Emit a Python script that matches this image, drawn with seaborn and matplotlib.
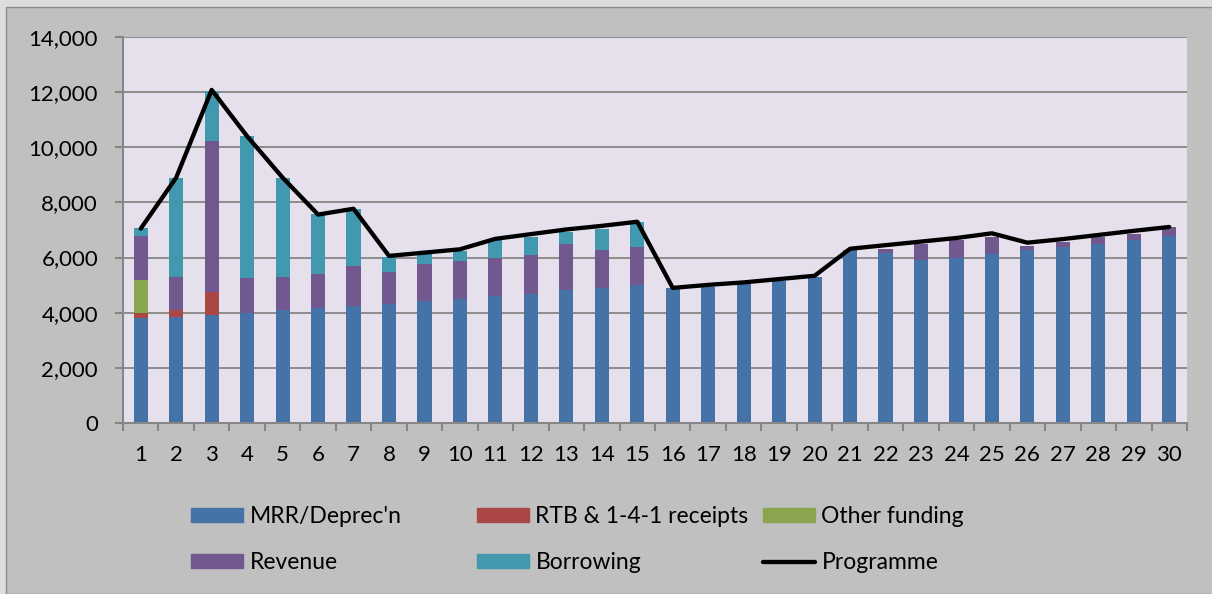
import matplotlib
matplotlib.use("Agg")
import matplotlib.pyplot as plt
import matplotlib.patches as mpatches
from matplotlib.lines import Line2D
from matplotlib.ticker import FuncFormatter
import numpy as np
import pandas as pd
import seaborn as sns

# Data
years = [str(i) for i in range(1, 31)]
mrr = [3800, 3830, 3930, 4000, 4085, 4160, 4240, 4330, 4410, 4500,
       4590, 4680, 4810, 4910, 5020, 4890, 4940, 5030, 5150, 5300,
       6280, 6180, 5900, 5990, 6120, 6260, 6380, 6510, 6630, 6780]
rtb = [190, 280, 825] + [0] * 27
other = [1200] + [0] * 29
revenue = [1590, 1200, 5490, 1260, 1210, 1250, 1440, 1130, 1370, 1390,
           1390, 1410, 1700, 1380, 1360, 0, 0, 0, 0, 0,
           0, 120, 600, 640, 630, 170, 170, 220, 240, 340]
borrowing = [290, 3560, 1780, 5140, 3590, 2160, 2085, 570, 340, 340,
             640, 640, 400, 760, 900] + [0] * 15
programme = [7050, 8900, 12080, 10400, 8900, 7560, 7770, 6060, 6180, 6300,
             6680, 6850, 7020, 7150, 7300, 4900, 5010, 5100, 5220, 5340,
             6320, 6450, 6580, 6710, 6880, 6540, 6670, 6820, 6970, 7110]

names = ["MRR/Deprec'n", "RTB & 1-4-1 receipts", "Other funding", "Revenue", "Borrowing"]
colors = ["#4572A7", "#AA4643", "#89A54E", "#71588F", "#4198AF"]

df = pd.DataFrame({"year": years, names[0]: mrr, names[1]: rtb, names[2]: other,
                   names[3]: revenue, names[4]: borrowing, "Programme": programme})

sns.set_theme(style="ticks")
plt.rcParams["font.family"] = ["Lato", "DejaVu Sans"]

fig = plt.figure(figsize=(12.12, 5.94), dpi=100)
fig.patch.set_facecolor("#DDDDDD")
fig.patches.append(mpatches.Rectangle((6 / 1212, 0), 1, 1 - 7 / 594, transform=fig.transFigure,
                                      facecolor="#C0C0C0", edgecolor="#8C8C8C", lw=1, zorder=-5))
ax = fig.add_axes([123 / 1212, 1 - 423 / 594, (1187 - 123) / 1212, (423 - 37) / 594])
ax.set_facecolor("#E6E0EC")

# stacked bars: draw cumulative totals from the top down
cum = df[names].cumsum(axis=1)
for name, col in reversed(list(zip(names, colors))):
    sns.barplot(x=df["year"], y=cum[name], color=col, width=0.4, linewidth=0,
                saturation=1, ax=ax, zorder=2)

sns.pointplot(x=df["year"], y=df["Programme"], color="black", markers="", linewidth=3.1,
              errorbar=None, ax=ax, zorder=3)

ax.set_xlim(-0.5, 29.5)
ax.set_ylim(0, 14000)
ax.set_yticks(range(0, 14001, 2000))
ax.yaxis.set_major_formatter(FuncFormatter(lambda v, p: f"{int(v):,}"))
ax.set_xticks(range(30), years)
ax.set_xticks(np.arange(-0.5, 30, 1), minor=True)
ax.tick_params(axis="x", which="major", length=0, pad=16, labelsize=16, colors="black")
ax.tick_params(axis="x", which="minor", length=6, width=1.5, color="#868686")
ax.tick_params(axis="y", length=6, width=1.5, color="#868686", pad=12, labelsize=16)
for lab in ax.get_xticklabels() + ax.get_yticklabels():
    lab.set_color("black")
ax.set_xlabel("")
ax.set_ylabel("")
ax.yaxis.grid(True, color="#868686", lw=1.3)
ax.set_axisbelow(True)
for s in ["top", "right"]:
    ax.spines[s].set_visible(False)
for s in ["left", "bottom"]:
    ax.spines[s].set_color("#868686")
    ax.spines[s].set_linewidth(1.5)

# legend: three columns of two rows
handles = [mpatches.Patch(color=c, label=n) for n, c in zip(names, colors)]
handles.append(Line2D([], [], color="black", lw=3.1, label="Programme"))
columns = [(191, [handles[0], handles[3]]), (477, [handles[1], handles[4]]), (763, [handles[2], handles[5]])]
for x, hs in columns:
    leg = fig.legend(handles=hs, loc="upper left", bbox_to_anchor=(x / 1212, 1 - 506 / 594),
                     frameon=False, fontsize=16.5, borderpad=0, borderaxespad=0,
                     handlelength=2.25, handleheight=0.6, handletextpad=0.3, labelspacing=1.1)
    for t in leg.get_texts():
        t.set_color("black")

fig.savefig("out.png", dpi=100, facecolor=fig.get_facecolor())
